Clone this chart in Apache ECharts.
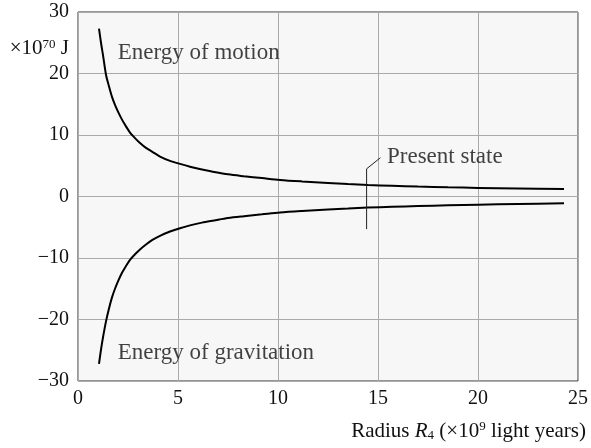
<!DOCTYPE html>
<html>
<head>
<meta charset="utf-8">
<script src="https://cdn.jsdelivr.net/npm/echarts@6/dist/echarts.min.js"></script>
<style>html,body{margin:0;padding:0;background:#fff;}#c{width:591px;height:448px;}</style>
</head>
<body>
<div id="c"></div>
<script>
// Radius values (×10^9 light years)
var radius = [1.05, 1.15, 1.25, 1.4, 1.55, 1.7, 1.85, 2.0, 2.2, 2.4, 2.6, 2.85, 3.1, 3.4, 3.7, 4.1, 4.6, 5.1, 5.6, 6.2, 6.8, 7.5, 8.3, 9.2, 10.1, 11.2, 12.5, 13.5, 14.5, 15.7, 17.0, 18.5, 20.0, 22.0, 24.3];
// Energy of motion (×10^70 J)
var motion = [27.3, 25.0, 23.0, 19.8, 17.9, 16.2, 14.9, 13.8, 12.5, 11.4, 10.4, 9.5, 8.7, 7.9, 7.3, 6.5, 5.8, 5.3, 4.85, 4.4, 4.0, 3.6, 3.3, 3.0, 2.7, 2.45, 2.2, 2.02, 1.87, 1.75, 1.62, 1.5, 1.4, 1.3, 1.2];
// Energy of gravitation (×10^70 J)
var gravitation = [-27.2, -24.9, -22.9, -20.3, -18.2, -16.4, -15.0, -13.8, -12.4, -11.3, -10.3, -9.4, -8.6, -7.8, -7.1, -6.4, -5.7, -5.15, -4.7, -4.25, -3.9, -3.5, -3.2, -2.9, -2.6, -2.35, -2.1, -1.95, -1.8, -1.67, -1.55, -1.43, -1.33, -1.22, -1.1];
// Present state marker: vertical tick and leader
var presentX = [14.43, 14.43, 15.12];
var presentY = [-5.3, 4.5, 6.3];
// Annotation labels (anchor in data space)
var labelText = ['Energy of motion', 'Energy of gravitation', 'Present state'];
var labelX = [1.99, 1.99, 15.45];
var labelY = [23.4, -25.5, 6.4];
var xTicks = ['0', '5', '10', '15', '20', '25'];
var yTicks = ['\u221230', '\u221220', '\u221210', '0', '10', '20', '30'];

var FONT = 'Liberation Serif';
var FS = 20;
var FA = 23;
var INK = '#111';

function pairs(xs, ys) { return xs.map(function (x, i) { return [x, ys[i]]; }); }

var chart = echarts.init(document.getElementById('c'));
chart.setOption({
  animation: false,
  textStyle: { fontFamily: FONT },
  grid: { left: 78, right: 11, top: 12, bottom: 67, show: true, backgroundColor: '#f7f7f7', borderColor: '#333', borderWidth: 1 },
  xAxis: {
    type: 'value', min: 0, max: 25, interval: 5,
    axisLine: { show: false }, axisTick: { show: false },
    splitLine: { show: true, lineStyle: { color: '#aaaaaa', width: 1 } },
    axisLabel: { fontFamily: FONT, fontSize: FS, color: INK, margin: 8,
      formatter: function (v) { return xTicks[Math.round(v / 5)]; } }
  },
  yAxis: {
    type: 'value', min: -30, max: 30, interval: 10,
    axisLine: { show: false }, axisTick: { show: false },
    splitLine: { show: true, lineStyle: { color: '#aaaaaa', width: 1 } },
    axisLabel: { fontFamily: FONT, fontSize: FS, color: INK, margin: 9,
      formatter: function (v) { return yTicks[Math.round((v + 30) / 10)]; } }
  },
  series: [
    { type: 'line', data: pairs(radius, motion), smooth: 0.3, showSymbol: false, lineStyle: { color: '#000', width: 2 } },
    { type: 'line', data: pairs(radius, gravitation), smooth: 0.3, showSymbol: false, lineStyle: { color: '#000', width: 2 } },
    { type: 'line', data: pairs(presentX, presentY), showSymbol: false, lineStyle: { color: '#222', width: 1 } },
    { type: 'scatter', symbolSize: 0,
      data: labelText.map(function (t, i) { return { value: [labelX[i], labelY[i]], name: t }; }),
      label: { show: true, position: [0, 0], align: 'left', verticalAlign: 'middle',
        formatter: '{b}', fontFamily: FONT, fontSize: FA, color: INK } }
  ],
  graphic: [
    { type: 'text', right: 522, top: 38, style: {
        text: '×10{sup|70} J', fontFamily: FONT, fontSize: 21, fill: INK,
        rich: { sup: { fontFamily: FONT, fontSize: 13, padding: [0, 0, 8, 0] } } } },
    { type: 'text', right: 5, top: 420, style: {
        text: 'Radius {i|R}{sub|4} (×10{sup|9} light years)', fontFamily: FONT, fontSize: 21, fill: INK,
        rich: { i: { fontFamily: FONT, fontSize: 21, fontStyle: 'italic' },
                sub: { fontFamily: FONT, fontSize: 13, padding: [9, 0, 0, 0] },
                sup: { fontFamily: FONT, fontSize: 13, padding: [0, 0, 9, 0] } } } }
  ]
});
</script>
</body>
</html>
